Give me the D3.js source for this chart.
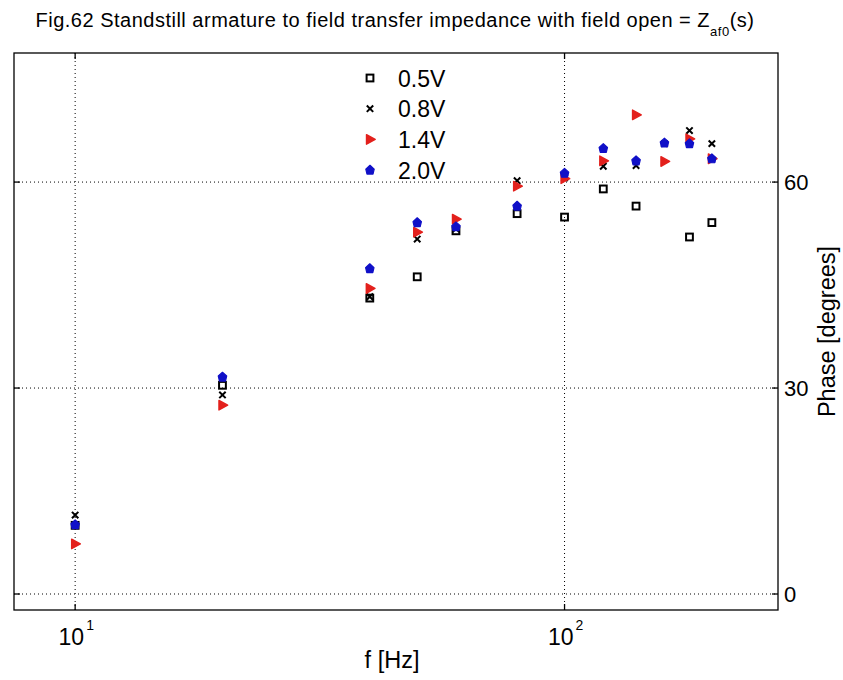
<!DOCTYPE html>
<html>
<head>
<script src="https://d3js.org/d3.v7.min.js"></script>
<style>
  body { margin: 0; background: #fff; }
  text { font-family: "Liberation Sans", Arial, sans-serif; fill: #000; }
</style>
</head>
<body>
<svg class="chart"></svg>
<script>
// frequencies [Hz] and phase [degrees] per test voltage
var freqs = [10, 20, 40, 50, 60, 80, 100, 120, 140, 160, 180, 200];
var phase05 = [10.0, 30.4, 43.1, 46.2, 52.9, 55.4, 54.9, 59.0, 56.5, null, 52.0, 54.1];
var phase08 = [11.5, 29.0, 43.3, 51.7, 53.2, 60.2, 60.6, 62.3, 62.4, 65.6, 67.5, 65.6];
var phase14 = [7.3, 27.5, 44.5, 52.7, 54.6, 59.4, 60.5, 63.1, 69.8, 63.0, 66.3, 63.4];
var phase20 = [10.1, 31.6, 47.4, 54.1, 53.5, 56.5, 61.3, 64.9, 63.1, 65.7, 65.6, 63.4];
var seriesNames = ["0.5V", "0.8V", "1.4V", "2.0V"];
var xTicks = [10, 100], xTickExp = ["1", "2"];
var yTicks = [0, 30, 60];

var svgWidth = 843, svgHeight = 680,
    margin = {top: 53, right: 65, bottom: 70, left: 14},
    width = 778 - margin.left,
    height = 610 - margin.top;

var red = "#e3201c", blue = "#1010c8";

var xScale = d3.scaleLog().domain([7.5, 273]).range([0, width]),
    yScale = d3.scaleLinear().domain([-2.33, 78.8]).range([height, 0]);

var svg = d3.select(".chart").attr("width", svgWidth).attr("height", svgHeight);
var g = svg.append("g").attr("transform", "translate(" + margin.left + "," + margin.top + ")");

// grid
g.selectAll(".xgrid").data(xTicks).enter().append("line")
    .attr("x1", d => xScale(d)).attr("x2", d => xScale(d))
    .attr("y1", 0).attr("y2", height)
    .attr("stroke", "#000").attr("stroke-width", 1).attr("stroke-dasharray", "1,3");
g.selectAll(".ygrid").data(yTicks).enter().append("line")
    .attr("y1", d => yScale(d)).attr("y2", d => yScale(d))
    .attr("x1", 0).attr("x2", width)
    .attr("stroke", "#000").attr("stroke-width", 1).attr("stroke-dasharray", "1,3");

// box
g.append("rect").attr("width", width).attr("height", height)
    .attr("fill", "none").attr("stroke", "#000").attr("stroke-width", 1.3);

// inward ticks on all sides
var tl = 6;
xTicks.forEach(function (t) {
    g.append("line").attr("x1", xScale(t)).attr("x2", xScale(t)).attr("y1", height).attr("y2", height - tl).attr("stroke", "#000").attr("stroke-width", 1.3);
    g.append("line").attr("x1", xScale(t)).attr("x2", xScale(t)).attr("y1", 0).attr("y2", tl).attr("stroke", "#000").attr("stroke-width", 1.3);
});
yTicks.forEach(function (t) {
    g.append("line").attr("y1", yScale(t)).attr("y2", yScale(t)).attr("x1", 0).attr("x2", tl).attr("stroke", "#000").attr("stroke-width", 1.3);
    g.append("line").attr("y1", yScale(t)).attr("y2", yScale(t)).attr("x1", width).attr("x2", width - tl).attr("stroke", "#000").attr("stroke-width", 1.3);
});

// tick labels
xTicks.forEach(function (t, i) {
    g.append("text").attr("x", xScale(t) + 9).attr("y", height + 35)
        .attr("font-size", 23).attr("text-anchor", "end").text("10");
    g.append("text").attr("x", xScale(t) + 11).attr("y", height + 20)
        .attr("font-size", 14).text(xTickExp[i]);
});
g.selectAll(".ylab").data(yTicks).enter().append("text")
    .attr("x", width + 6).attr("y", d => yScale(d) + 8)
    .attr("font-size", 22).text(d => d);

// axis titles
g.append("text").attr("x", width / 2 - 4).attr("y", height + 58)
    .attr("font-size", 23.5).attr("text-anchor", "middle").text("f [Hz]");
g.append("text").attr("transform", "translate(" + (width + 57) + "," + (height / 2) + ") rotate(-90)")
    .attr("font-size", 23.5).attr("text-anchor", "middle").text("Phase [degrees]");

// title
var title = svg.append("text").attr("x", 395).attr("y", 27).attr("font-size", 20)
    .attr("letter-spacing", 0.5).attr("text-anchor", "middle");
title.append("tspan").text("Fig.62 Standstill armature to field transfer impedance with field open = Z");
title.append("tspan").attr("font-size", 13).attr("dy", 9).text("af0");
title.append("tspan").attr("dy", -9).text("(s)");

// marker painters
function drawSquare(sel) {
    sel.append("rect").attr("x", -3.4).attr("y", -3.4).attr("width", 6.8).attr("height", 6.8)
        .attr("fill", "none").attr("stroke", "#000").attr("stroke-width", 2);
}
function drawCross(sel) {
    sel.append("path").attr("d", "M-3.2,-3.2L3.2,3.2M-3.2,3.2L3.2,-3.2")
        .attr("stroke", "#000").attr("stroke-width", 2).attr("fill", "none");
}
function drawTri(sel) {
    sel.append("path").attr("d", "M-3.5,-4.8L5.2,0L-3.5,4.8Z")
        .attr("fill", red).attr("stroke", red).attr("stroke-width", 1.4).attr("stroke-linejoin", "round");
}
function drawDiamond(sel) {
    sel.append("path").attr("d", "M0,-4.8L4.2,-1L3,4L-3,4L-4.2,-1Z")
        .attr("fill", blue).attr("stroke", blue).attr("stroke-width", 1.2).attr("stroke-linejoin", "round");
}
var painters = [drawSquare, drawCross, drawTri, drawDiamond];
var allSeries = [phase05, phase08, phase14, phase20];

allSeries.forEach(function (vals, si) {
    var pts = freqs.map((f, i) => ({f: f, v: vals[i]})).filter(d => d.v != null);
    g.selectAll(".s" + si).data(pts).enter().append("g")
        .attr("transform", d => "translate(" + xScale(d.f) + "," + yScale(d.v) + ")")
        .each(function () { painters[si](d3.select(this)); });
});

// legend
var legend = svg.append("g").attr("transform", "translate(370,78)");
seriesNames.forEach(function (name, i) {
    var row = legend.append("g").attr("transform", "translate(0," + (i * 30.7) + ")");
    painters[i](row.append("g"));
    row.append("text").attr("x", 28).attr("y", 8.5).attr("font-size", 23).text(name);
});
</script>
</body>
</html>
